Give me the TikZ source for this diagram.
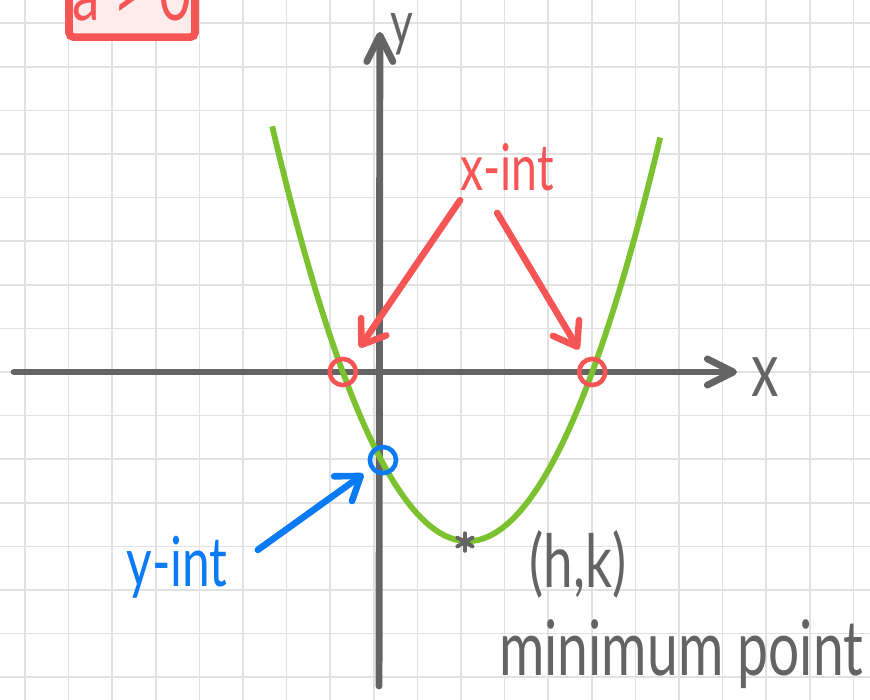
\documentclass[tikz,border=0pt]{standalone}
\usepackage{fontspec}
\setmainfont{Lato}[FakeStretch=0.72]
\usetikzlibrary{arrows.meta}
\definecolor{penred}{RGB}{245,85,85}
\definecolor{penblue}{RGB}{10,122,245}
\definecolor{pengreen}{RGB}{124,194,48}
\definecolor{pengray}{RGB}{100,100,100}
\definecolor{gridgray}{RGB}{225,225,225}
\newcommand{\hand}[1]{\fontsize{#1}{#1}\selectfont}

\begin{document}
\begin{tikzpicture}[
    gridline/.style={gridgray, line width=1pt},
    axis/.style={pengray, line width=4.5pt, line cap=round, -{Straight Barb[length=6mm,width=6mm,round]}},
    curve/.style={pengreen, line width=3.8pt},
    pointer/.style={line width=4.3pt, line cap=round, -{Straight Barb[length=5mm,width=7mm,round]}},
    ring/.style={circle, draw, line width=3pt, minimum size=0.6cm},
    every node/.style={inner sep=0pt}]
    \useasboundingbox (-8.693,-7.5) rectangle (11.261,8.532);
    \clip (-8.693,-7.5) rectangle (11.261,8.532);
    % Grid
    \foreach \i in {-8,...,11}
      \draw[gridline] (\i-0.12,-7.6) -- (\i-0.12,8.6);
    \foreach \j in {-7,...,8}
      \draw[gridline] (-8.8,\j) -- (11.3,\j);
    % Axes
    \draw[axis] (-8.37,0) -- (8.21,0);
    \draw[axis] (0,-7.2) -- (0.02,7.8);
    \node[pengray, font=\hand{50}, anchor=base] (xlab) at (8.85,-0.57) {x};
    \node[pengray, font=\hand{40}, anchor=base] (ylab) at (0.53,7.5) {y};
    % Parabola
    \draw[curve] plot[domain=-2.45:6.45, samples=90, smooth] (\x,{0.474*(\x-2.03)^2-3.88});
    % Intercepts and vertex
    \node[ring, penred] (xl) at (-0.83,0) {};
    \node[ring, penred] (xr) at (4.89,0) {};
    \node[ring, penblue] (yc) at (0.09,-2.02) {};
    \coordinate (vtx) at (1.97,-3.9);
    \foreach \a in {90,30,-30}
      \draw[pengray, line width=2.6pt, line cap=round] ([shift={(\a:0.2)}]vtx) -- ([shift={(\a+180:0.2)}]vtx);
    % Labels
    \node[penred, font=\hand{42}, anchor=base] (xint) at (2.94,4.17) {x-int};
    \node[penblue, font=\hand{45}, anchor=base] (yint) at (-4.63,-4.93) {y-int};
    \node[pengray, font=\hand{48}, anchor=base] (hk) at (4.56,-4.95) {(h,k)};
    \node[pengray, font=\hand{50}, anchor=base] (minpt) at (6.93,-6.95) {minimum point};
    % Pointers
    \draw[pointer, penred, shorten >=0.68cm] ([shift={(-1.08,-0.23)}]xint.base) -- (xl.center);
    \draw[pointer, penred, shorten >=0.6cm] ([shift={(-0.23,-0.52)}]xint.base) -- (xr.center);
    \draw[pointer, penblue, shorten >=0.55cm] ([shift={(1.85,0.85)}]yint.base) -- (yc.center);
    % Condition box
    \node[draw=penred, fill=penred!12, text=penred, line width=5pt, rounded corners=3pt,
      minimum width=2.89cm, text height=1.43cm, text depth=0.39cm,
      font=\hand{50}, anchor=base] (cond) at (-5.665,8.07) {a > 0};
\end{tikzpicture}
\end{document}
